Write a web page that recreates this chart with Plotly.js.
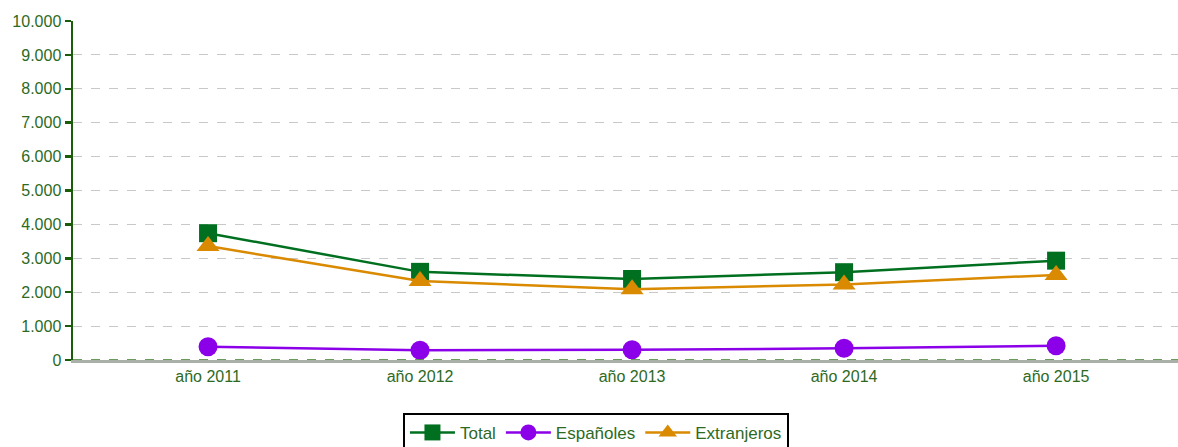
<!DOCTYPE html>
<html><head><meta charset="utf-8">
<script src="https://cdn.plot.ly/plotly-3.0.1.min.js"></script>
<style>html,body{margin:0;padding:0;background:#fff}#chart{width:1178px;height:447px}</style>
</head><body><div id="chart"></div>
<script>
const categories = ['año 2011','año 2012','año 2013','año 2014','año 2015'];
const total = [3740, 2600, 2390, 2590, 2930];
const espanoles = [390, 290, 300, 345, 420];
const extranjeros = [3360, 2330, 2090, 2230, 2510];
const yTicks = [0,1000,2000,3000,4000,5000,6000,7000,8000,9000,10000];

const txt = '#2d6a1f';
const font = {family: 'Liberation Sans, Arial, sans-serif', size: 16, color: txt};
const legFont = {family: 'Liberation Sans, Arial, sans-serif', size: 17, color: txt};

const traces = [
  {name:'Total', x:categories, y:total, type:'scatter', mode:'lines+markers',
   line:{color:'#007020', width:2.5}, marker:{symbol:'square', size:18, color:'#007020'}},
  {name:'Españoles', x:categories, y:espanoles, type:'scatter', mode:'lines+markers',
   line:{color:'#8b00e8', width:2.5}, marker:{symbol:'circle', size:19, color:'#8b00e8'}},
  {name:'Extranjeros', x:categories, y:extranjeros, type:'scatter', mode:'lines+markers',
   line:{color:'#da8a00', width:2.5}, marker:{symbol:'triangle-up', size:20, color:'#da8a00'}}
];

const layout = {
  width:1178, height:447,
  margin:{l:73, r:0, t:21, b:87, autoexpand:false},
  paper_bgcolor:'#fff', plot_bgcolor:'#fff',
  font: font,
  separators: ',.',
  showlegend: true,
  legend:{orientation:'h', x:0.2986, xanchor:'left', y:-0.156, yanchor:'top',
          bordercolor:'#000', borderwidth:2, font:legFont, itemwidth:45},
  xaxis:{type:'category', range:[-0.637, 4.575], showgrid:false, zeroline:false,
         showline:true, linecolor:'#a8b0a8', linewidth:3, ticks:'', tickfont:font},
  yaxis:{range:[0,10000], tickvals:yTicks, tickformat:',d', showgrid:true,
         gridcolor:'#c8c8c8', griddash:'dash', gridwidth:1, zeroline:false,
         showline:true, linecolor:'#1a5c0a', linewidth:2.5, ticks:'outside',
         ticklen:6, tickwidth:2.5, tickcolor:'#1a5c0a', tickfont:font},
  shapes:[{type:'line', xref:'paper', x0:0, x1:1, yref:'y', y0:0, y1:0,
           line:{color:'#3a7a2a', width:1.5, dash:'dash'}, layer:'above'}]
};
Plotly.newPlot('chart', traces, layout, {displayModeBar:false, staticPlot:true});
</script></body></html>
